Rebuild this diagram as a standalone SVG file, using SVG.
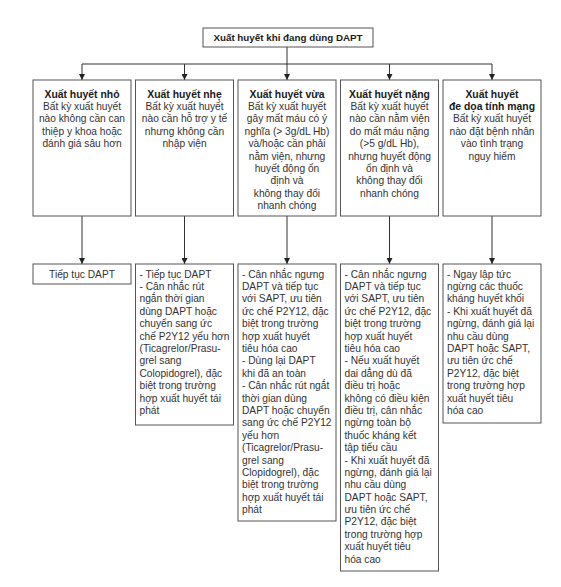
<svg xmlns="http://www.w3.org/2000/svg" width="561" height="587" viewBox="0 0 561 587">
<defs>
<style>
.box{fill:#fff;stroke:#555;stroke-width:1}
.t{font-family:"Liberation Sans",Arial,sans-serif;font-size:10.2px;fill:#333}
.c{text-anchor:middle}
.b{font-weight:bold;font-size:10.4px;fill:#1a1a1a}
.tt{font-weight:bold;font-size:9.8px;fill:#1a1a1a}
.ln{fill:none;stroke:#333;stroke-width:1}
</style>
<marker id="ah" viewBox="0 0 6 6" refX="6" refY="3" markerWidth="6" markerHeight="6" markerUnits="userSpaceOnUse" orient="auto">
<path d="M0,0 L6,3 L0,6 Z" fill="#222"/>
</marker>
</defs>
<rect width="561" height="587" fill="#fff"/>

<g id="connectors">
<path class="ln" d="M287,47 V80" marker-end="url(#ah)"/>
<path class="ln" d="M82,64 H492"/>
<path class="ln" d="M82,64 V80" marker-end="url(#ah)"/>
<path class="ln" d="M184.5,64 V80" marker-end="url(#ah)"/>
<path class="ln" d="M389.5,64 V80" marker-end="url(#ah)"/>
<path class="ln" d="M492,64 V80" marker-end="url(#ah)"/>
<path class="ln" d="M82,216 V264" marker-end="url(#ah)"/>
<path class="ln" d="M184.5,216 V264" marker-end="url(#ah)"/>
<path class="ln" d="M287,216 V264" marker-end="url(#ah)"/>
<path class="ln" d="M389.5,216 V264" marker-end="url(#ah)"/>
<path class="ln" d="M492,216 V264" marker-end="url(#ah)"/>
</g>

<g id="title">
<rect class="box" x="203" y="28" width="170" height="19"/>
<text class="t c tt" x="288" y="41">Xuất huyết khi đang dùng DAPT</text>
</g>

<g id="minor">
<rect class="box" x="33" y="80" width="98" height="136"/>
<text class="t c" x="82" y="97.5"><tspan class="b">Xuất huyết nhỏ</tspan><tspan x="82" dy="12.4">Bất kỳ xuất huyết</tspan><tspan x="82" dy="12.4">nào không cần can</tspan><tspan x="82" dy="12.4">thiệp y khoa hoặc</tspan><tspan x="82" dy="12.4">đánh giá sâu hơn</tspan></text>
</g>

<g id="mild">
<rect class="box" x="135.5" y="80" width="98" height="136"/>
<text class="t c" x="184.5" y="97.5"><tspan class="b">Xuất huyết nhẹ</tspan><tspan x="184.5" dy="12.4">Bất kỳ xuất huyết</tspan><tspan x="184.5" dy="12.4">nào cần hỗ trợ y tế</tspan><tspan x="184.5" dy="12.4">nhưng không cần</tspan><tspan x="184.5" dy="12.4">nhập viện</tspan></text>
</g>

<g id="moderate">
<rect class="box" x="238" y="80" width="98" height="136"/>
<text class="t c" x="287" y="97.5"><tspan class="b">Xuất huyết vừa</tspan><tspan x="287" dy="12.4">Bất kỳ xuất huyết</tspan><tspan x="287" dy="12.4">gây mất máu có ý</tspan><tspan x="287" dy="12.4">nghĩa (&gt; 3g/dL Hb)</tspan><tspan x="287" dy="12.4">và/hoặc cần phải</tspan><tspan x="287" dy="12.4">nằm viện, nhưng</tspan><tspan x="287" dy="12.4">huyết động ổn</tspan><tspan x="287" dy="12.4">định và</tspan><tspan x="287" dy="12.4">không thay đổi</tspan><tspan x="287" dy="12.4">nhanh chóng</tspan></text>
</g>

<g id="severe">
<rect class="box" x="340.5" y="80" width="98" height="136"/>
<text class="t c" x="389.5" y="97.5"><tspan class="b">Xuất huyết nặng</tspan><tspan x="389.5" dy="12.4">Bất kỳ xuất huyết</tspan><tspan x="389.5" dy="12.4">nào cần nằm viện</tspan><tspan x="389.5" dy="12.4">do mất máu nặng</tspan><tspan x="389.5" dy="12.4">(&gt;5 g/dL Hb),</tspan><tspan x="389.5" dy="12.4">nhưng huyết động</tspan><tspan x="389.5" dy="12.4">ổn định và</tspan><tspan x="389.5" dy="12.4">không thay đổi</tspan><tspan x="389.5" dy="12.4">nhanh chóng</tspan></text>
</g>

<g id="life-threatening">
<rect class="box" x="443" y="80" width="98" height="136"/>
<text class="t c" x="492" y="97.5"><tspan class="b">Xuất huyết</tspan><tspan class="b" x="492" dy="12.4">đe dọa tính mạng</tspan><tspan x="492" dy="12.4">Bất kỳ xuất huyết</tspan><tspan x="492" dy="12.4">nào đặt bệnh nhân</tspan><tspan x="492" dy="12.4">vào tình trạng</tspan><tspan x="492" dy="12.4">nguy hiểm</tspan></text>
</g>

<g id="minor-action">
<rect class="box" x="33" y="264" width="98" height="20"/>
<text class="t c" x="82" y="277.5">Tiếp tục DAPT</text>
</g>

<g id="mild-action">
<rect class="box" x="135.5" y="264" width="98" height="161"/>
<text class="t" x="139.5" y="277.5"><tspan>- Tiếp tục DAPT</tspan><tspan x="139.5" dy="12.4">- Cân nhắc rút</tspan><tspan x="139.5" dy="12.4">ngắn thời gian</tspan><tspan x="139.5" dy="12.4">dùng DAPT hoặc</tspan><tspan x="139.5" dy="12.4">chuyển sang ức</tspan><tspan x="139.5" dy="12.4">chế P2Y12 yếu hơn</tspan><tspan x="139.5" dy="12.4">(Ticagrelor/Prasu-</tspan><tspan x="139.5" dy="12.4">grel sang</tspan><tspan x="139.5" dy="12.4">Colopidogrel), đặc</tspan><tspan x="139.5" dy="12.4">biệt trong trường</tspan><tspan x="139.5" dy="12.4">hợp xuất huyết tái</tspan><tspan x="139.5" dy="12.4">phát</tspan></text>
</g>

<g id="moderate-action">
<rect class="box" x="238" y="264" width="98" height="257"/>
<text class="t" x="242" y="277.5"><tspan>- Cân nhắc ngưng</tspan><tspan x="242" dy="12.4">DAPT và tiếp tục</tspan><tspan x="242" dy="12.4">với SAPT, ưu tiên</tspan><tspan x="242" dy="12.4">ức chế P2Y12, đặc</tspan><tspan x="242" dy="12.4">biệt trong trường</tspan><tspan x="242" dy="12.4">hợp xuất huyết</tspan><tspan x="242" dy="12.4">tiêu hóa cao</tspan><tspan x="242" dy="12.4">- Dùng lại DAPT</tspan><tspan x="242" dy="12.4">khi đã an toàn</tspan><tspan x="242" dy="12.4">- Cân nhắc rút ngắt</tspan><tspan x="242" dy="12.4">thời gian dùng</tspan><tspan x="242" dy="12.4">DAPT hoặc chuyển</tspan><tspan x="242" dy="12.4">sang ức chế P2Y12</tspan><tspan x="242" dy="12.4">yếu hơn</tspan><tspan x="242" dy="12.4">(Ticagrelor/Prasu-</tspan><tspan x="242" dy="12.4">grel sang</tspan><tspan x="242" dy="12.4">Clopidogrel), đặc</tspan><tspan x="242" dy="12.4">biệt trong trường</tspan><tspan x="242" dy="12.4">hợp xuất huyết tái</tspan><tspan x="242" dy="12.4">phát</tspan></text>
</g>

<g id="severe-action">
<rect class="box" x="340.5" y="264" width="98" height="307"/>
<text class="t" x="344.5" y="277.5"><tspan>- Cân nhắc ngưng</tspan><tspan x="344.5" dy="12.4">DAPT và tiếp tục</tspan><tspan x="344.5" dy="12.4">với SAPT, ưu tiên</tspan><tspan x="344.5" dy="12.4">ức chế P2Y12, đặc</tspan><tspan x="344.5" dy="12.4">biệt trong trường</tspan><tspan x="344.5" dy="12.4">hợp xuất huyết</tspan><tspan x="344.5" dy="12.4">tiêu hóa cao</tspan><tspan x="344.5" dy="12.4">- Nếu xuất huyết</tspan><tspan x="344.5" dy="12.4">dai dẳng dù đã</tspan><tspan x="344.5" dy="12.4">điều trị hoặc</tspan><tspan x="344.5" dy="12.4">không có điều kiện</tspan><tspan x="344.5" dy="12.4">điều trị, cân nhắc</tspan><tspan x="344.5" dy="12.4">ngừng toàn bộ</tspan><tspan x="344.5" dy="12.4">thuốc kháng kết</tspan><tspan x="344.5" dy="12.4">tập tiểu cầu</tspan><tspan x="344.5" dy="12.4">- Khi xuất huyết đã</tspan><tspan x="344.5" dy="12.4">ngừng, đánh giá lại</tspan><tspan x="344.5" dy="12.4">nhu cầu dùng</tspan><tspan x="344.5" dy="12.4">DAPT hoặc SAPT,</tspan><tspan x="344.5" dy="12.4">ưu tiên ức chế</tspan><tspan x="344.5" dy="12.4">P2Y12, đặc biệt</tspan><tspan x="344.5" dy="12.4">trong trường hợp</tspan><tspan x="344.5" dy="12.4">xuất huyết tiêu</tspan><tspan x="344.5" dy="12.4">hóa cao</tspan></text>
</g>

<g id="life-threatening-action">
<rect class="box" x="443" y="264" width="98" height="159"/>
<text class="t" x="447" y="277.5"><tspan>- Ngay lập tức</tspan><tspan x="447" dy="12.4">ngừng các thuốc</tspan><tspan x="447" dy="12.4">kháng huyết khối</tspan><tspan x="447" dy="12.4">- Khi xuất huyết đã</tspan><tspan x="447" dy="12.4">ngừng, đánh giá lại</tspan><tspan x="447" dy="12.4">nhu cầu dùng</tspan><tspan x="447" dy="12.4">DAPT hoặc SAPT,</tspan><tspan x="447" dy="12.4">ưu tiên ức chế</tspan><tspan x="447" dy="12.4">P2Y12, đặc biệt</tspan><tspan x="447" dy="12.4">trong trường hợp</tspan><tspan x="447" dy="12.4">xuất huyết tiêu</tspan><tspan x="447" dy="12.4">hóa cao</tspan></text>
</g>
</svg>
